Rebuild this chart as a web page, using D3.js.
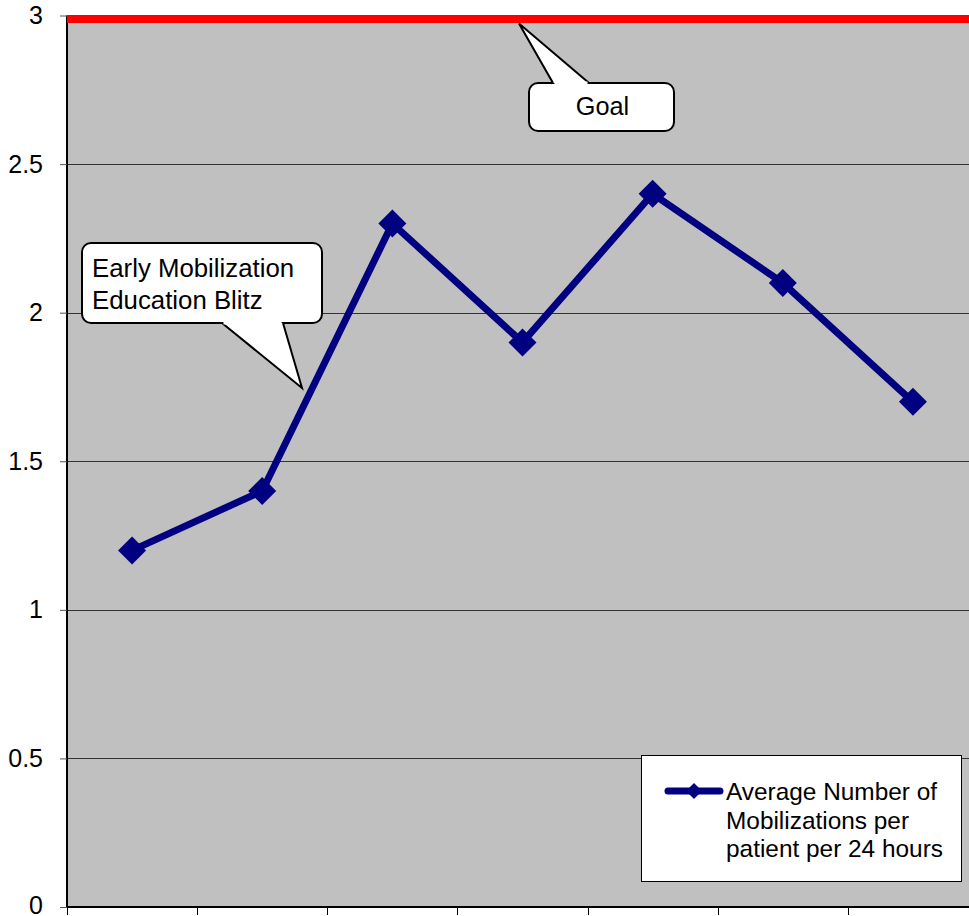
<!DOCTYPE html>
<html>
<head>
<meta charset="utf-8">
<script src="https://cdn.jsdelivr.net/npm/d3@7/dist/d3.min.js"></script>
<style>
  html, body { margin: 0; padding: 0; background: #fff; }
  svg { display: block; font-family: "Liberation Sans", Arial, sans-serif; }
</style>
</head>
<body>
<svg id="chart" width="969" height="916"></svg>
<script>
// Data
const periods = ["P1", "P2", "P3", "P4", "P5", "P6", "P7"];
const mobilizations = [1.2, 1.4, 2.3, 1.9, 2.4, 2.1, 1.7];
const goalValue = [3];
const yTicks = [0, 0.5, 1, 1.5, 2, 2.5, 3];
const seriesName = ["Average Number of", "Mobilizations per", "patient per 24 hours"];
const blitzLabel = ["Early Mobilization", "Education Blitz"];
const goalLabel = ["Goal"];

const svg = d3.select("#chart");
const margin = { left: 67, top: 15.5, right: 978, bottom: 907 };

const x = d3.scaleBand().domain(periods).range([margin.left, margin.right]);
const y = d3.scaleLinear().domain([0, 3]).range([margin.bottom, margin.top]);

const navy = "#000080";

// Plot background
svg.append("rect")
  .attr("x", margin.left).attr("y", margin.top)
  .attr("width", margin.right - margin.left)
  .attr("height", margin.bottom - margin.top)
  .attr("fill", "#c0c0c0");

// Gridlines
svg.append("g").selectAll("line")
  .data(yTicks.filter(d => d > 0))
  .join("line")
  .attr("x1", margin.left).attr("x2", margin.right)
  .attr("y1", d => Math.round(y(d)) + 0.5).attr("y2", d => Math.round(y(d)) + 0.5)
  .attr("stroke", "#333").attr("stroke-width", 1);

// Y axis
const yAxis = d3.axisLeft(y).tickValues(yTicks).tickSize(7).tickPadding(17)
  .tickFormat(d => d3.format("")(d));
const gy = svg.append("g").attr("transform", `translate(${margin.left},0)`).call(yAxis);
gy.select(".domain").attr("stroke", "#000").attr("stroke-width", 2).attr("d", `M0,${margin.top}V${margin.bottom}`);
gy.selectAll(".tick line").attr("stroke", "#555");
gy.selectAll(".tick text").attr("font-size", 25).attr("fill", "#000")
  .attr("font-family", "'Liberation Sans', Arial, sans-serif");
// keep the baseline label inside the canvas
gy.selectAll(".tick text").filter(d => d === 0).attr("dy", "0.24em");

// X axis (ticks at band boundaries, no labels)
const boundaries = periods.map(p => x(p)).concat([margin.right]);
svg.append("line")
  .attr("x1", margin.left).attr("x2", margin.right)
  .attr("y1", margin.bottom).attr("y2", margin.bottom)
  .attr("stroke", "#000").attr("stroke-width", 2);
svg.append("g").selectAll("line")
  .data(boundaries)
  .join("line")
  .attr("x1", d => Math.round(d) + 0.5).attr("x2", d => Math.round(d) + 0.5)
  .attr("y1", margin.bottom).attr("y2", margin.bottom + 8)
  .attr("stroke", "#000").attr("stroke-width", 1);

// Goal line
svg.append("g").selectAll("line")
  .data(goalValue)
  .join("line")
  .attr("x1", margin.left).attr("x2", margin.right)
  .attr("y1", d => y(d) + 3.5).attr("y2", d => y(d) + 3.5)
  .attr("stroke", "#ff0000").attr("stroke-width", 8);

// Series line
const cx = p => x(p) + x.bandwidth() / 2;
const line = d3.line().x((d, i) => cx(periods[i])).y(d => y(d));
svg.append("path")
  .datum(mobilizations)
  .attr("d", line)
  .attr("fill", "none")
  .attr("stroke", navy)
  .attr("stroke-width", 7)
  .attr("stroke-linejoin", "round");

// Diamond markers
const diamond = (cxp, cyp, r) => `M${cxp},${cyp - r}L${cxp + r},${cyp}L${cxp},${cyp + r}L${cxp - r},${cyp}Z`;
svg.append("g").selectAll("path")
  .data(mobilizations)
  .join("path")
  .attr("d", (d, i) => diamond(cx(periods[i]), y(d), 14))
  .attr("fill", navy);

// Callout helper: rounded box with a pointer wedge
function callout(box, wedge, lines, opts) {
  const g = svg.append("g");
  g.append("rect")
    .attr("x", box.x).attr("y", box.y).attr("width", box.w).attr("height", box.h)
    .attr("rx", 9).attr("ry", 9)
    .attr("fill", "#fff").attr("stroke", "#000").attr("stroke-width", 2);
  g.append("path")
    .attr("d", `M${wedge[0][0]},${wedge[0][1]}L${wedge[1][0]},${wedge[1][1]}L${wedge[2][0]},${wedge[2][1]}`)
    .attr("fill", "#fff").attr("stroke", "#000").attr("stroke-width", 2).attr("stroke-linejoin", "miter");
  // cover the box border where the wedge joins it
  g.append("line")
    .attr("x1", wedge[0][0] + 1.5).attr("x2", wedge[2][0] - 1.5)
    .attr("y1", wedge[0][1]).attr("y2", wedge[2][1])
    .attr("stroke", "#fff").attr("stroke-width", 3);
  g.selectAll("text")
    .data(lines)
    .join("text")
    .attr("x", opts.tx).attr("y", (d, i) => opts.ty + i * opts.lh)
    .attr("text-anchor", opts.anchor)
    .attr("font-size", opts.fs).attr("fill", "#000")
    .text(d => d);
}

// Goal callout pointing at the goal line
callout({ x: 529, y: 83, w: 145, h: 48 },
  [[553, 83], [519, y(goalValue[0]) + 8], [589, 83]],
  goalLabel, { tx: 602.5, ty: 115, lh: 0, anchor: "middle", fs: 25.3 });

// Education blitz callout pointing between the 2nd and 3rd period
callout({ x: 82, y: 243, w: 240, h: 80 },
  [[222, 323], [302, 388], [283, 323]],
  blitzLabel, { tx: 92, ty: 277, lh: 32, anchor: "start", fs: 25.8 });

// Legend
const lg = svg.append("g");
lg.append("rect")
  .attr("x", 641.5).attr("y", 755.5).attr("width", 320).attr("height", 126)
  .attr("fill", "#fff").attr("stroke", "#000").attr("stroke-width", 1);
lg.append("line")
  .attr("x1", 668).attr("x2", 720).attr("y1", 791).attr("y2", 791)
  .attr("stroke", navy).attr("stroke-width", 7).attr("stroke-linecap", "round");
lg.append("path").attr("d", diamond(694, 791, 8)).attr("fill", navy);
lg.selectAll("text")
  .data(seriesName)
  .join("text")
  .attr("x", 726).attr("y", (d, i) => 800 + i * 28.7)
  .attr("font-size", 24.4).attr("fill", "#000")
  .text(d => d);
</script>
</body>
</html>
